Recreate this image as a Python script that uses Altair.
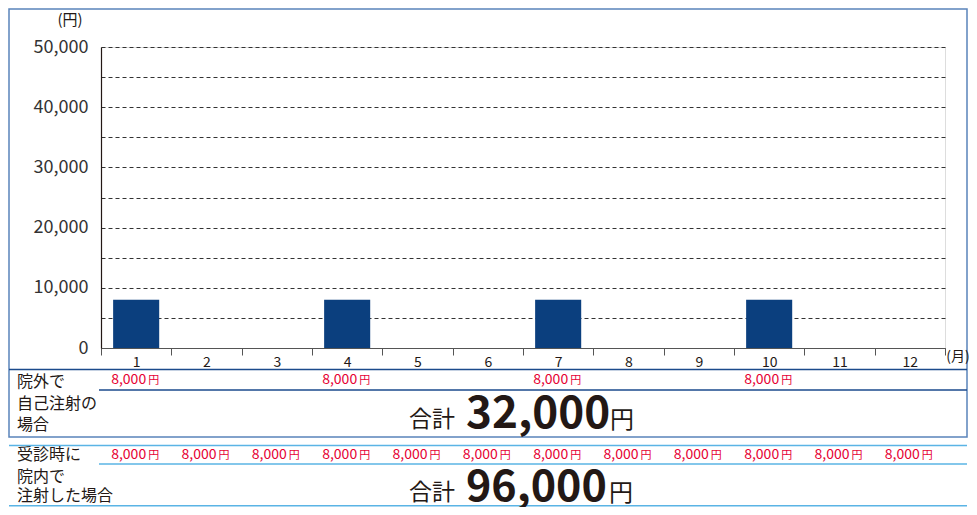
import altair as alt
import pandas as pd

# ---- data ----
months = list(range(1, 13))
self_injection = [8000, 0, 0, 8000, 0, 0, 8000, 0, 0, 8000, 0, 0]
in_clinic = [8000] * 12
y_ticks = list(range(0, 50001, 5000))
self_total = "32,000"
clinic_total = "96,000"
row1_labels = ["院外で", "自己注射の", "場合"]
row2_labels = ["受診時に", "院内で", "注射した場合"]

df = pd.DataFrame({"month": months, "self": self_injection, "clinic": in_clinic})
one = pd.DataFrame({"a": [0]})

FONT = "Noto Sans CJK JP"
INK = "#231815"
RED = "#e60033"
NAVY = "#1b4a8c"
FRAME = "#5a84bb"
LIGHT = "#5ab4e5"
PW, PH = 844, 301
OX, OY = 101, 47  # plot origin in the page image
SVG_W, SVG_H = 961, 499


def px(v):
    return v - OX


def py(v):
    return v - OY


xenc = alt.X(
    "month:O",
    title=None,
    scale=alt.Scale(paddingInner=0, paddingOuter=0),
    axis=alt.Axis(
        labelAngle=0, tickBand="extent", ticks=True, tickSize=7,
        tickColor="#555555", domainColor="#555555", domainWidth=1.2,
        labelFontSize=14, labelColor=INK, labelFont=FONT, labelPadding=0,
        grid=False,
    ),
)
xplain = alt.X("month:O", title=None)

bars = alt.Chart(df).mark_bar(color="#0b3f7e", width=alt.RelativeBandSize(0.655)).encode(
    x=xenc,
    y=alt.Y(
        "self:Q",
        title=None,
        scale=alt.Scale(domain=[0, 50000], nice=False),
        axis=alt.Axis(
            values=y_ticks,
            labelExpr="datum.value % 10000 == 0 ? format(datum.value, ',') : ''",
            grid=True, gridDash=[4, 3], gridColor="#333333", gridWidth=1,
            tickSize=0, domainColor=INK, domainWidth=1.2,
            labelFontSize=18, labelColor="#333333", labelFont=FONT, labelPadding=13,
            labelFontWeight="normal",
        ),
    ),
)


def hrule(x1, x2, y, color, w=1.5):
    return alt.Chart(one).mark_rule(color=color, strokeWidth=w).encode(
        x=alt.value(px(x1)), x2=alt.value(px(x2)), y=alt.value(py(y))
    )


def label(txt, x, y, size, color=INK, align="left", weight="normal", baseline="middle"):
    return alt.Chart(one).mark_text(
        text=txt, font=FONT, fontSize=size, color=color, align=align,
        baseline=baseline, fontWeight=weight,
    ).encode(x=alt.value(px(x)), y=alt.value(py(y)))


frame = alt.Chart(one).mark_rect(fillOpacity=0, stroke=FRAME, strokeWidth=1.5).encode(
    x=alt.value(px(9)), x2=alt.value(px(967)), y=alt.value(py(9)), y2=alt.value(py(437))
)

rules = [
    hrule(9, 967, 369.5, NAVY),
    hrule(99, 967, 390, NAVY),
    hrule(9, 967, 445.5, LIGHT),
    hrule(99, 967, 464, LIGHT),
    hrule(9, 967, 505.8, LIGHT),
]


def money_row(field, y, only_positive):
    base = alt.Chart(df)
    if only_positive:
        base = base.transform_filter(f"datum['{field}'] > 0")
    base = base.transform_calculate(lbl=f"format(datum['{field}'], ',')")
    num = base.mark_text(font=FONT, fontSize=14, color=RED, align="right", baseline="middle", dx=10).encode(
        x=xplain, y=alt.value(py(y)), text="lbl:N"
    )
    yen = base.mark_text(font=FONT, fontSize=11, color=RED, align="left", baseline="middle", dx=12, dy=1).encode(
        x=xplain, y=alt.value(py(y)), text=alt.value("円")
    )
    return [num, yen]


texts = []
for i, t in enumerate(row1_labels):
    texts.append(label(t, 17, [382, 404, 425][i], 16))
for i, t in enumerate(row2_labels):
    texts.append(label(t, 17, [455, 477, 496][i], 16))

texts += [
    label("(円)", 70, 20, 15, align="center"),
    label("(月)", 958, 357, 14, align="center"),
    label("合計", 409, 427, 23, baseline="alphabetic"),
    label(self_total, 466, 428, 44, weight="bold", baseline="alphabetic"),
    label("円", 610, 428, 24, baseline="alphabetic"),
    label("合計", 409, 500, 23, baseline="alphabetic"),
    label(clinic_total, 466, 501, 43, weight="bold", baseline="alphabetic"),
    label("円", 609, 501, 24, baseline="alphabetic"),
]

layers = [bars, frame] + rules + money_row("self", 380, True) + money_row("clinic", 455, False) + texts

chart = alt.layer(*layers).properties(
    width=PW, height=PH,
    autosize=alt.AutoSizeParams(type="none"),
    padding={"left": OX - 8, "top": OY - 8, "right": SVG_W - (OX - 8) - PW, "bottom": SVG_H - (OY - 8) - PH},
).configure_view(stroke=None).configure(font=FONT)

chart.save("out.html", embed_options={"renderer": "svg", "actions": False})
